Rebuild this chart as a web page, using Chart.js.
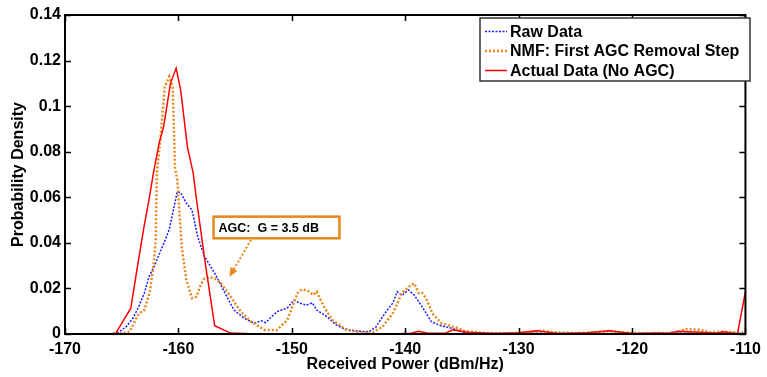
<!DOCTYPE html>
<html>
<head>
<meta charset="utf-8">
<script src="https://cdn.jsdelivr.net/npm/chart.js@4.4.1/dist/chart.umd.min.js"></script>
<style>
  html, body { margin: 0; padding: 0; background: #fff; }
  #pdfChart { display: block; }
</style>
</head>
<body>
<canvas id="pdfChart" width="767" height="377"></canvas>
<script>
// Received power histograms (dBm/Hz) vs probability density
const rawPower = [-166, -165.5, -164.6, -164, -163.5, -163, -162.6, -162.1, -161.7, -161.1, -160.8, -160.5, -160.1, -159.8, -159.3, -158.8, -158.3, -157.7, -157.2, -156.8, -156.3, -155.9, -155.1, -154.2, -153.3, -152.7, -152.3, -151.8, -151.3, -150.4, -149.8, -149.3, -148.7, -148.2, -147.8, -146.9, -146.1, -145.5, -144.9, -144, -143.2, -142.6, -142, -141.5, -141.1, -140.7, -140.3, -139.7, -139.2, -138.8, -138.2, -137.7, -136.8, -135.9, -134.7, -133, -131, -129, -127, -125, -123, -121, -119, -117, -115, -113, -111, -110];
const rawDensity = [0, 0, 0.0032, 0.007, 0.012, 0.018, 0.025, 0.03, 0.035, 0.042, 0.046, 0.053, 0.0625, 0.062, 0.0574, 0.0544, 0.0427, 0.034, 0.03, 0.0267, 0.022, 0.018, 0.0105, 0.0069, 0.0047, 0.0058, 0.005, 0.0075, 0.0098, 0.0114, 0.0149, 0.0135, 0.0127, 0.0137, 0.0105, 0.0076, 0.004, 0.0025, 0.0018, 0.0012, 0.001, 0.003, 0.0076, 0.011, 0.0135, 0.0186, 0.017, 0.0193, 0.017, 0.0142, 0.0095, 0.0054, 0.0035, 0.0025, 0.0005, 0.0003, 0.0002, 0.0004, 0.0002, 0.0003, 0.0002, 0.0003, 0.0002, 0.0003, 0.0004, 0.0002, 0.0002, 0.0002];

const nmfPower = [-168, -166, -165, -164.3, -163.5, -163, -162.5, -162.2, -162, -161.9, -161.6, -161.2, -160.8, -160.5, -160.3, -160.1, -159.7, -159.3, -158.8, -158.4, -158, -157.7, -157.2, -156.8, -156.2, -155.4, -154.5, -153.6, -152.4, -151.3, -150.4, -149.5, -149.1, -148.6, -148.1, -147.8, -147.1, -146.4, -145.2, -144, -142.9, -142, -141.1, -140.3, -139.5, -139.2, -138.8, -138.5, -138.2, -137.6, -136.8, -135.3, -134.7, -133, -131, -129, -128, -127, -125, -123, -122, -121, -119, -117, -116, -115.3, -114, -113.1, -112, -111, -110.2];
const nmfDensity = [0, 0, 0.0003, 0.001, 0.009, 0.0105, 0.019, 0.03, 0.041, 0.0707, 0.085, 0.1085, 0.113, 0.1085, 0.073, 0.0676, 0.038, 0.0237, 0.0157, 0.0164, 0.022, 0.0244, 0.0248, 0.0244, 0.022, 0.0164, 0.0098, 0.0054, 0.0018, 0.0018, 0.0061, 0.0179, 0.0196, 0.019, 0.0171, 0.0186, 0.0113, 0.0061, 0.0018, 0.0008, 0.0005, 0.0032, 0.009, 0.0179, 0.0215, 0.0222, 0.0179, 0.018, 0.016, 0.009, 0.0047, 0.0025, 0.0012, 0.0004, 0.0003, 0.0008, 0.0015, 0.0008, 0.0004, 0.0008, 0.0014, 0.0008, 0.0003, 0.0005, 0.0006, 0.0022, 0.0018, 0.0008, 0.001, 0.0008, 0.0005];

const actualPower = [-170, -166, -165.5, -164.2, -163.6, -163, -162.6, -162.2, -161.7, -161.3, -160.7, -160.2, -159.8, -159.2, -158.7, -158.4, -157.6, -156.8, -155.4, -153, -150, -145, -141, -139.5, -138.8, -138, -136.5, -135.8, -134.5, -132, -130, -128.4, -126.5, -124, -122, -120, -117.5, -116.8, -116, -114, -112.5, -112, -111, -110.7, -110];
const actualDensity = [0, 0, 0.0005, 0.0113, 0.03, 0.048, 0.0588, 0.0707, 0.0838, 0.091, 0.11, 0.1167, 0.107, 0.082, 0.0707, 0.0588, 0.03, 0.0036, 0.0004, 0, 0, 0, 0, 0.0003, 0.0012, 0.0003, 0.0003, 0.0018, 0.0008, 0.0002, 0.0005, 0.0014, 0.0002, 0.0005, 0.0014, 0.0002, 0.0004, 0.0002, 0.0012, 0.0008, 0.0003, 0.001, 0.0003, 0.0002, 0.0186];

const seriesNames = ['Raw Data', 'NMF: First AGC Removal Step', 'Actual Data (No AGC)'];
const xTicks = [-170, -160, -150, -140, -130, -120, -110];
const yTicks = [0, 0.02, 0.04, 0.06, 0.08, 0.1, 0.12, 0.14];

// annotation: label corners and arrow tail/head, in data units
const agcLabel = 'AGC:  G = 3.5 dB';
const agcBox = [-156.9, 0.0515, -145.8, 0.042];
const agcArrow = [-153.6, 0.0413, -155.5, 0.0251];

const FONT = '"Liberation Sans", Arial, sans-serif';
const BLUE = '#1a1aff';
const ORANGE = '#e8871e';
const RED = '#ff0000';

function toPoints(xs, ys) {
    return xs.map((x, i) => ({ x: x, y: ys[i] }));
}

// box around the axes plus inward tick marks on all four sides
const framePlugin = {
    id: 'frame',
    afterDatasetsDraw(chart) {
        const { ctx, chartArea: a, scales: { x, y } } = chart;
        ctx.save();
        ctx.strokeStyle = '#000';
        ctx.lineWidth = 1.5;
        ctx.beginPath();
        xTicks.forEach(v => {
            const px = Math.round(x.getPixelForValue(v)) + 0.5;
            ctx.moveTo(px, a.bottom); ctx.lineTo(px, a.bottom - 6);
            ctx.moveTo(px, a.top); ctx.lineTo(px, a.top + 6);
        });
        yTicks.forEach(v => {
            const py = Math.round(y.getPixelForValue(v)) + 0.5;
            ctx.moveTo(a.left, py); ctx.lineTo(a.left + 6, py);
            ctx.moveTo(a.right, py); ctx.lineTo(a.right - 6, py);
        });
        ctx.stroke();
        ctx.lineWidth = 2;
        ctx.strokeRect(a.left, a.top, a.right - a.left, a.bottom - a.top);
        ctx.restore();
    }
};

// legend box in the upper right of the plot
const legendPlugin = {
    id: 'boxLegend',
    afterDraw(chart) {
        const ctx = chart.ctx;
        const left = 480, top = 18, w = 270, h = 63;
        ctx.save();
        ctx.fillStyle = '#fff';
        ctx.fillRect(left, top, w, h);
        ctx.strokeStyle = '#333';
        ctx.lineWidth = 1.5;
        ctx.strokeRect(left, top, w, h);
        ctx.font = 'bold 16px ' + FONT;
        ctx.textBaseline = 'middle';
        chart.data.datasets.forEach((ds, i) => {
            const cy = top + 13.5 + i * 19.5;
            ctx.beginPath();
            ctx.strokeStyle = ds.borderColor;
            ctx.lineWidth = ds.borderWidth;
            ctx.setLineDash(ds.borderDash || []);
            ctx.moveTo(left + 5, cy);
            ctx.lineTo(left + 27, cy);
            ctx.stroke();
            ctx.setLineDash([]);
            ctx.fillStyle = '#000';
            ctx.fillText(ds.label, left + 30, cy + 1);
        });
        ctx.restore();
    }
};

// boxed text with a dashed arrow pointing at the NMF bump
const agcPlugin = {
    id: 'agcNote',
    afterDatasetsDraw(chart) {
        const { ctx, scales: { x, y } } = chart;
        const bx1 = x.getPixelForValue(agcBox[0]), by1 = y.getPixelForValue(agcBox[1]);
        const bx2 = x.getPixelForValue(agcBox[2]), by2 = y.getPixelForValue(agcBox[3]);
        const tx = x.getPixelForValue(agcArrow[0]), ty = y.getPixelForValue(agcArrow[1]);
        const hx = x.getPixelForValue(agcArrow[2]), hy = y.getPixelForValue(agcArrow[3]);
        ctx.save();
        ctx.strokeStyle = ORANGE;
        ctx.fillStyle = ORANGE;
        ctx.lineWidth = 2;
        ctx.setLineDash([2, 2]);
        const ang = Math.atan2(hy - ty, hx - tx);
        ctx.beginPath();
        ctx.moveTo(tx, ty);
        ctx.lineTo(hx - 6 * Math.cos(ang), hy - 6 * Math.sin(ang));
        ctx.stroke();
        ctx.setLineDash([]);
        ctx.beginPath();
        ctx.moveTo(hx, hy);
        ctx.lineTo(hx - 9 * Math.cos(ang) + 4 * Math.sin(ang), hy - 9 * Math.sin(ang) - 4 * Math.cos(ang));
        ctx.lineTo(hx - 9 * Math.cos(ang) - 4 * Math.sin(ang), hy - 9 * Math.sin(ang) + 4 * Math.cos(ang));
        ctx.closePath();
        ctx.fill();
        ctx.fillStyle = '#fff';
        ctx.fillRect(bx1, by1, bx2 - bx1, by2 - by1);
        ctx.lineWidth = 2.5;
        ctx.strokeRect(bx1, by1, bx2 - bx1, by2 - by1);
        ctx.fillStyle = '#000';
        ctx.font = 'bold 12.5px ' + FONT;
        ctx.textBaseline = 'middle';
        ctx.fillText(agcLabel, bx1 + 5, (by1 + by2) / 2 + 1);
        ctx.restore();
    }
};

const ctx = document.getElementById('pdfChart').getContext('2d');

new Chart(ctx, {
    type: 'line',
    data: {
        datasets: [
            {
                label: seriesNames[0],
                data: toPoints(rawPower, rawDensity),
                borderColor: BLUE,
                borderWidth: 1.5,
                borderDash: [2, 1.5],
                order: 2
            },
            {
                label: seriesNames[1],
                data: toPoints(nmfPower, nmfDensity),
                borderColor: ORANGE,
                borderWidth: 2.5,
                borderDash: [2, 2],
                order: 1
            },
            {
                label: seriesNames[2],
                data: toPoints(actualPower, actualDensity),
                borderColor: RED,
                borderWidth: 1.5,
                order: 0
            }
        ]
    },
    options: {
        responsive: false,
        animation: false,
        layout: { padding: { top: 15, right: 13, left: 0, bottom: 0 } },
        elements: {
            point: { radius: 0 },
            line: { tension: 0, fill: false, borderCapStyle: 'butt' }
        },
        plugins: {
            legend: { display: false },
            tooltip: { enabled: false }
        },
        scales: {
            x: {
                type: 'linear',
                min: -170,
                max: -110,
                afterBuildTicks: s => { s.ticks = xTicks.map(v => ({ value: v })); },
                afterFit: s => { s.height = 43; },
                grid: { display: false, drawTicks: false },
                border: { display: false },
                ticks: {
                    color: '#000',
                    padding: 6,
                    maxRotation: 0,
                    font: { family: FONT, size: 16, weight: 'bold' }
                },
                title: {
                    display: true,
                    text: 'Received Power (dBm/Hz)',
                    color: '#000',
                    padding: { top: 0, bottom: 3 },
                    font: { family: FONT, size: 16, weight: 'bold' }
                }
            },
            y: {
                min: 0,
                max: 0.14,
                afterBuildTicks: s => { s.ticks = yTicks.map(v => ({ value: v })); },
                afterFit: s => { s.width = 65; },
                grid: { display: false, drawTicks: false },
                border: { display: false },
                ticks: {
                    color: '#000',
                    padding: 4,
                    callback: v => String(+v.toFixed(2)),
                    font: { family: FONT, size: 16, weight: 'bold' }
                },
                title: {
                    display: true,
                    text: 'Probability Density',
                    color: '#000',
                    padding: { top: 9, bottom: 0 },
                    font: { family: FONT, size: 16, weight: 'bold' }
                }
            }
        }
    },
    plugins: [framePlugin, agcPlugin, legendPlugin]
});
</script>
</body>
</html>
